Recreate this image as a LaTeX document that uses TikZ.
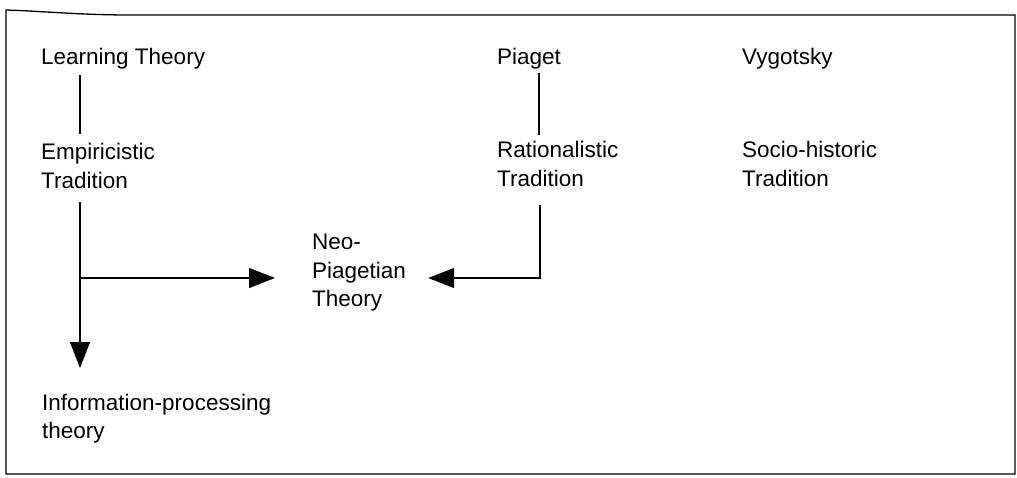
\documentclass[tikz,border=0pt]{standalone}
\usepackage{fontspec}
\setmainfont{Liberation Sans}
\usetikzlibrary{arrows.meta}
\newcommand\mlines[1]{\begin{tabular}[t]{@{}l@{}}#1\end{tabular}}
\begin{document}
\begin{tikzpicture}[x=1pt,y=-1pt,
  lbl/.style={anchor=base west,inner sep=0pt,font=\fontsize{22.5}{28.3}\selectfont},
  conn/.style={line width=1.3pt},
  arr/.style={line width=1.3pt,-{Triangle[length=26pt,width=20pt]}}]
\useasboundingbox (0,0) rectangle (1017,478);
\draw[line width=1.3pt] (6,10) .. controls (40,11) and (80,15) .. (130,15) -- (1015,15) -- (1015,474) -- (6,474) -- cycle;
\node[lbl] (lt) at (41,65) {Learning Theory};
\node[lbl] (emp) at (41,160) {\mlines{Empiricistic\\Tradition}};
\node[lbl] (info) at (42,410) {\mlines{Information-processing\\theory}};
\node[lbl] (neo) at (312,250) {\mlines{Neo-\\Piagetian\\Theory}};
\node[lbl] (pia) at (497,65) {Piaget};
\node[lbl] (rat) at (497,158) {\mlines{Rationalistic\\Tradition}};
\node[lbl] (vyg) at (742,65) {Vygotsky};
\node[lbl] (soc) at (742,158) {\mlines{Socio-historic\\Tradition}};
% Learning Theory -- Empiricistic
\draw[conn] ([shift={(39,10)}]lt.base west) -- ([shift={(39,-26)}]emp.base west);
% Piaget -- Rationalistic
\draw[conn] ([shift={(42,8)}]pia.base west) -- ([shift={(42,-23)}]rat.base west);
% Empiricistic -> Information-processing, branch -> Neo-Piagetian
\coordinate (br) at ([shift={(39,118)}]emp.base west);
\draw[arr] ([shift={(39,42)}]emp.base west) -- ([shift={(38,-42)}]info.base west);
\draw[arr] (br) -- ([shift={(-37,0)}]neo.base west |- br);
% Rationalistic -> Neo-Piagetian
\coordinate (rc) at ([shift={(43,120)}]rat.base west);
\draw[conn] ([shift={(43,47)}]rat.base west) -- (rc);
\draw[arr] ([xshift=0.6pt]rc) -- ([xshift=22pt]neo.east |- rc);
\end{tikzpicture}
\end{document}
